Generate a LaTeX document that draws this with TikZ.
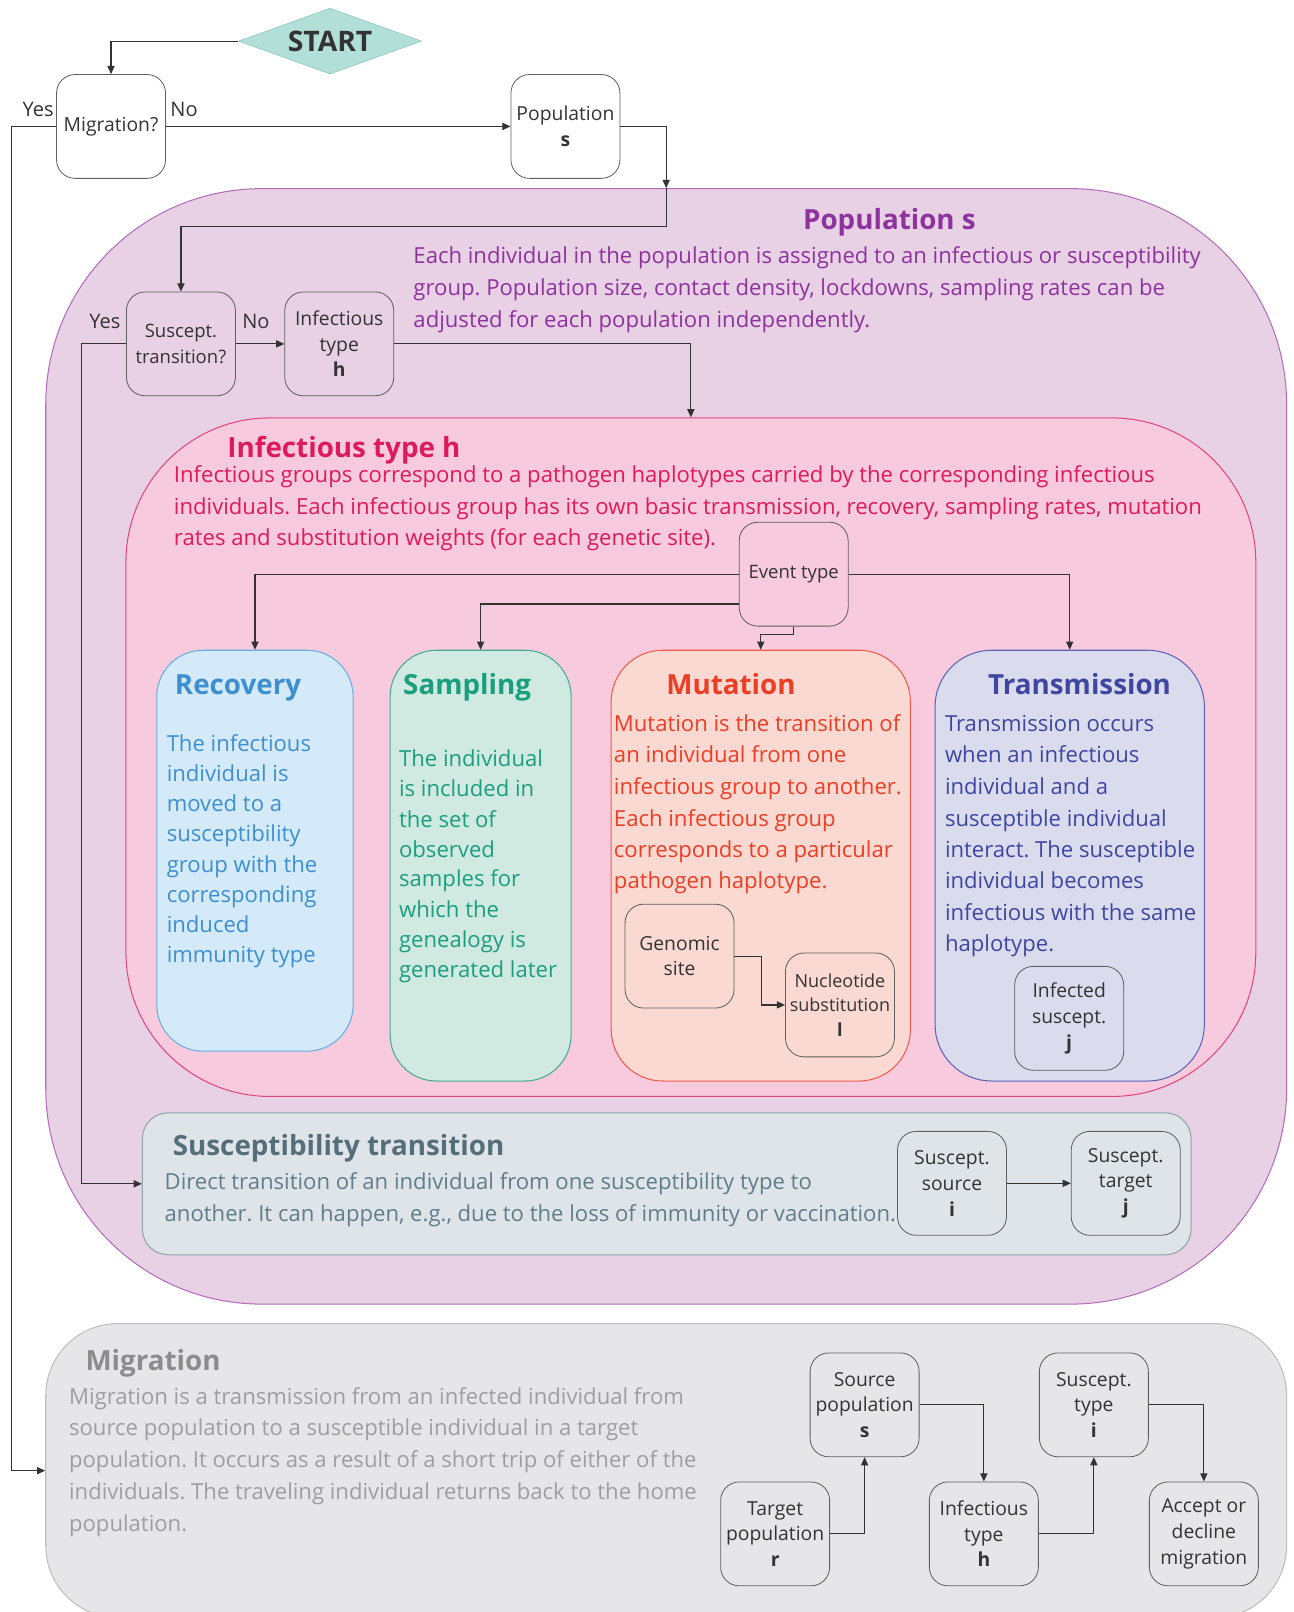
\documentclass[tikz,border=0pt]{standalone}
\usepackage{fontspec}
\setmainfont{Open Sans}
\frenchspacing
\usetikzlibrary{positioning,arrows.meta,shapes.geometric,calc,backgrounds}
\definecolor{lineDark}{RGB}{51,51,51}
\definecolor{boxEdge}{RGB}{95,95,95}
\definecolor{startFill}{RGB}{178,223,216}
\definecolor{startEdge}{RGB}{120,190,180}
\definecolor{popFill}{RGB}{232,208,229}
\definecolor{popEdge}{RGB}{178,108,186}
\definecolor{popText}{RGB}{142,50,158}
\definecolor{infFill}{RGB}{247,202,221}
\definecolor{infEdge}{RGB}{224,70,127}
\definecolor{infText}{RGB}{220,26,92}
\definecolor{recFill}{RGB}{212,234,248}
\definecolor{recEdge}{RGB}{102,174,224}
\definecolor{recText}{RGB}{61,143,208}
\definecolor{smpFill}{RGB}{208,234,226}
\definecolor{smpEdge}{RGB}{69,170,144}
\definecolor{smpText}{RGB}{26,158,126}
\definecolor{mutFill}{RGB}{249,217,210}
\definecolor{mutEdge}{RGB}{242,90,74}
\definecolor{mutText}{RGB}{236,62,36}
\definecolor{trmFill}{RGB}{218,220,238}
\definecolor{trmEdge}{RGB}{93,98,181}
\definecolor{trmText}{RGB}{63,70,160}
\definecolor{sucFill}{RGB}{222,228,232}
\definecolor{sucEdge}{RGB}{144,164,174}
\definecolor{sucTitle}{RGB}{84,110,122}
\definecolor{sucText}{RGB}{96,125,139}
\definecolor{migFill}{RGB}{230,230,232}
\definecolor{migEdge}{RGB}{189,189,189}
\definecolor{migTitle}{RGB}{140,140,140}
\definecolor{migText}{RGB}{158,158,158}

\begin{document}
\begin{tikzpicture}[x=1pt,y=-1pt,
    arr/.style={lineDark,line width=1.1pt,-{Triangle[length=8pt,width=7pt]}},
    smallbox/.style={draw=boxEdge,line width=0.8pt,rounded corners=18pt,minimum width=106pt,
      minimum height=101pt,align=center,text=lineDark,inner sep=1pt,font=\fontsize{18.8}{25}\selectfont},
    region/.style={anchor=north west,inner sep=0pt,line width=1pt},
    ttl/.style={anchor=mid west,inner sep=0pt,yshift=-7pt,font=\fontsize{27}{30}\selectfont\bfseries},
    body/.style={anchor=mid west,inner sep=0pt,yshift=-5pt,font=\fontsize{21.5}{26}\selectfont},
    lbl/.style={inner sep=0pt,text=lineDark,font=\fontsize{19.5}{22}\selectfont}]
  \useasboundingbox (0,0) rectangle (1258,1568);

  % containers
  \node[region,draw=popEdge,fill=popFill,rounded corners=210pt,minimum width=1207pt,minimum height=1085pt] (popBox) at (44,183) {};
  \node[region,draw=infEdge,fill=infFill,rounded corners=140pt,minimum width=1099pt,minimum height=660pt] (infBox) at (122,406) {};
  \node[region,draw=recEdge,fill=recFill,rounded corners=45pt,minimum width=191pt,minimum height=390pt] (recBox) at (152,632) {};
  \node[region,draw=smpEdge,fill=smpFill,rounded corners=45pt,minimum width=176pt,minimum height=419pt] (smpBox) at (379,632) {};
  \node[region,draw=mutEdge,fill=mutFill,rounded corners=50pt,minimum width=291pt,minimum height=419pt] (mutBox) at (594,632) {};
  \node[region,draw=trmEdge,fill=trmFill,rounded corners=55pt,minimum width=262pt,minimum height=419pt] (trmBox) at (909,632) {};
  \node[region,draw=sucEdge,fill=sucFill,rounded corners=25pt,minimum width=1020pt,minimum height=138pt] (sucBox) at (138,1082) {};
  \node[region,draw=migEdge,fill=migFill,rounded corners=70pt,minimum width=1207pt,minimum height=286pt] (migBox) at (44,1287) {};

  % titles
  \node[ttl,text=popText] (popTitle) at (781,214) {Population s};
  \node[ttl,text=infText] (infTitle) at (221,435) {Infectious type h};
  \node[ttl,text=recText] (recTitle) at (170,666) {Recovery};
  \node[ttl,text=smpText] (smpTitle) at (392,666) {Sampling};
  \node[ttl,text=mutText] (mutTitle) at (648,666) {Mutation};
  \node[ttl,text=trmText] (trmTitle) at (961,666) {Transmission};
  \node[ttl,text=sucTitle] (sucTitleTxt) at (168,1114) {Susceptibility transition};
  \node[ttl,text=migTitle] (migTitleTxt) at (83,1323) {Migration};

  % descriptions
  \foreach \y/\t [count=\i] in {249/{Each individual in the population is assigned to an infectious or susceptibility},
      280/{group. Population size, contact density, lockdowns, sampling rates can be},
      311/{adjusted for each population independently.}}
    \node[body,text=popText] (popLine\i) at (402,\y) {\t};
  \foreach \y/\t [count=\i] in {462/{Infectious groups correspond to a pathogen haplotypes carried by the corresponding infectious},
      493/{individuals. Each infectious group has its own basic transmission, recovery, sampling rates, mutation},
      523/{rates and substitution weights (for each genetic site).}}
    \node[body,text=infText] (infLine\i) at (169,\y) {\t};
  \foreach \y/\t [count=\i] in {723/The infectious, 752/individual is, 782/moved to a, 811/susceptibility,
      841/group with the, 870/corresponding, 899/induced, 929/immunity type}
    \node[body,text=recText] (recLine\i) at (162,\y) {\t};
  \foreach \y/\t [count=\i] in {738/The individual, 767/is included in, 797/the set of, 826/observed,
      855/samples for, 885/which the, 914/genealogy is, 943/generated later}
    \node[body,text=smpText] (smpLine\i) at (388,\y) {\t};
  \foreach \y/\t [count=\i] in {704/Mutation is the transition of, 734/an individual from one,
      765/infectious group to another., 796/Each infectious group,
      826/corresponds to a particular, 857/pathogen haplotype.}
    \node[body,text=mutText] (mutLine\i) at (597,\y) {\t};
  \foreach \y/\t [count=\i] in {704/Transmission occurs, 734/when an infectious, 765/individual and a,
      796/susceptible individual, 826/interact. The susceptible, 857/individual becomes,
      888/infectious with the same, 918/haplotype.}
    \node[body,text=trmText] (trmLine\i) at (919,\y) {\t};
  \foreach \y/\t [count=\i] in {1149/{Direct transition of an individual from one susceptibility type to},
      1180/{another. It can happen, e.g., due to the loss of immunity or vaccination.}}
    \node[body,text=sucText] (sucLine\i) at (160,\y) {\t};
  \foreach \y/\t [count=\i] in {1358/{Migration is a transmission from an infected individual from},
      1389/{source population to a susceptible individual in a target},
      1420/{population. It occurs as a result of a short trip of either of the},
      1451/{individuals. The traveling individual returns back to the home},
      1482/{population.}}
    \node[body,text=migText] (migLine\i) at (67,\y) {\t};

  % top flow
  \node[diamond,draw=startEdge,fill=startFill,aspect=2.8,inner sep=0pt,minimum width=178pt,minimum height=64pt,
    text=lineDark,font=\fontsize{27.5}{30}\selectfont\bfseries] (start) at (321,40) {START};
  \node[smallbox] (migQ) at (108,123) {Migration?};
  \node[smallbox] (popS) at (550,123) {Population\\\textbf{s}};
  \node[lbl] (yesA) at (37,106) {Yes};
  \node[lbl] (noA) at (179,106) {No};
  \node[smallbox,font=\fontsize{18}{25}\selectfont] (suscQ) at (176,334.5) {Suscept.\\transition?};
  \node[smallbox] (infH) at (330,334.5) {Infectious\\type\\\textbf{h}};
  \node[lbl] (yesB) at (102,313) {Yes};
  \node[lbl] (noB) at (249,313) {No};

  % inner boxes
  \node[smallbox,font=\fontsize{18}{25}\selectfont] (evt) at (772,558.5) {Event type};
  \node[smallbox] (genSite) at (661,930) {Genomic\\site};
  \node[smallbox,font=\fontsize{17.5}{24}\selectfont] (nucSub) at (817,977.5) {Nucleotide\\substitution\\\textbf{l}};
  \node[smallbox] (infSus) at (1040,990.5) {Infected\\suscept.\\\textbf{j}};
  \node[smallbox] (srcI) at (926,1151) {Suscept.\\source\\\textbf{i}};
  \node[smallbox] (tgtJ) at (1095,1151) {Suscept.\\target\\\textbf{j}};
  \node[smallbox] (srcPop) at (841,1366.5) {Source\\population\\\textbf{s}};
  \node[smallbox] (tgtPop) at (754,1492) {Target\\population\\\textbf{r}};
  \node[smallbox] (infT) at (957,1492) {Infectious\\type\\\textbf{h}};
  \node[smallbox] (susT) at (1064,1366.5) {Suscept.\\type\\\textbf{i}};
  \node[smallbox] (accDec) at (1171,1492) {Accept or\\decline\\migration};

  % connectors
  \draw[arr] (start.west) -| (migQ.north);
  \draw[arr] (migQ.east) -- (popS.west);
  \draw[arr] (migQ.west) -- ++(-43,0) |- (migBox.west);
  \draw[arr] (popS.east) -| (popBox.north);
  \draw[arr] (popBox.north) -- ++(0,37) -| (suscQ.north);
  \draw[arr] (suscQ.east) -- (infH.west);
  \draw[arr] (suscQ.west) -- ++(-43,0) |- (sucBox.west);
  \draw[arr] (infH.east) -| (infBox.north);
  \draw[arr] (evt.west) -| (recBox.north);
  \draw[arr] ([yshift=-29pt]evt.west) -| (smpBox.north);
  \draw[arr] (evt.south) -- ++(0,8) -| (mutBox.north);
  \draw[arr] (evt.east) -| (trmBox.north);
  \draw[arr] (genSite.east) -- ++(26,0) |- (nucSub.west);
  \draw[arr] (srcI) -- (tgtJ);
  \draw[arr] (tgtPop.east) -| (srcPop.south);
  \draw[arr] (srcPop.east) -| (infT.north);
  \draw[arr] (infT.east) -| (susT.south);
  \draw[arr] (susT.east) -| (accDec.north);
\end{tikzpicture}
\end{document}
